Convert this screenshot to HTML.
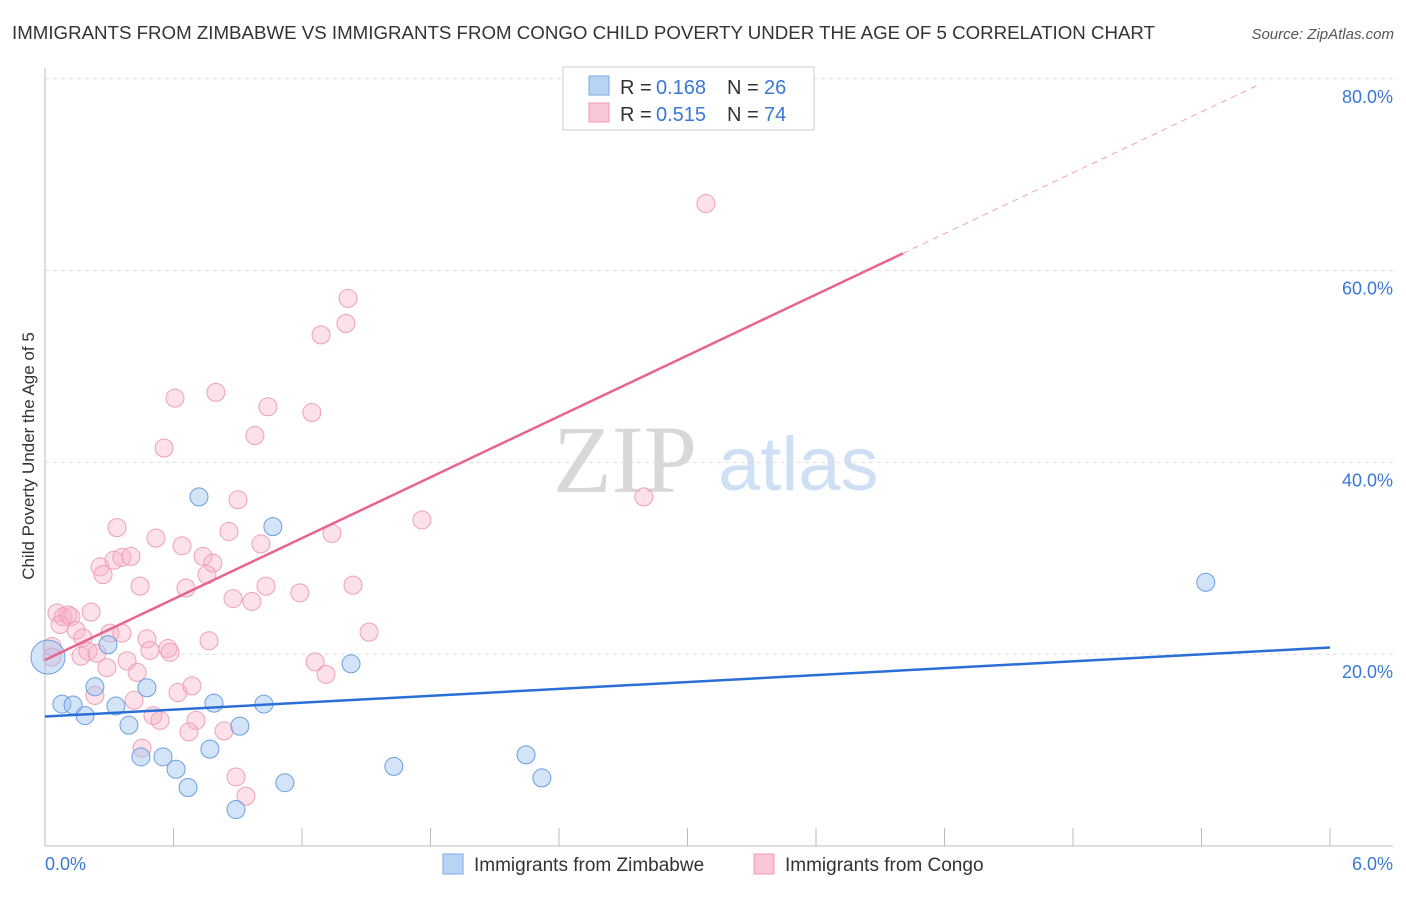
<!DOCTYPE html>
<html><head><meta charset="utf-8"><style>
body{margin:0;background:#fff;font-family:"Liberation Sans",sans-serif;}
svg text{font-family:"Liberation Sans",sans-serif;}
</style></head><body>
<svg id="chart" width="1406" height="892" viewBox="0 0 1406 892" xmlns="http://www.w3.org/2000/svg">
<text x="12" y="39" font-size="18.6" fill="#333" textLength="1143" lengthAdjust="spacingAndGlyphs">IMMIGRANTS FROM ZIMBABWE VS IMMIGRANTS FROM CONGO CHILD POVERTY UNDER THE AGE OF 5 CORRELATION CHART</text>
<text x="1394" y="39" font-size="15" fill="#555" font-style="italic" text-anchor="end">Source: ZipAtlas.com</text>
<text x="553" y="492" font-size="96" fill="#d8d8d8" style="font-family:'Liberation Serif',serif">ZIP</text>
<text x="718" y="490" font-size="76" fill="#cfe0f5">atlas</text>
<text transform="translate(34,456) rotate(-90)" font-size="17" fill="#333" text-anchor="middle">Child Poverty Under the Age of 5</text>
<g id="grid"></g><g id="marks"></g>
<g>
<rect x="563" y="67" width="251" height="63" fill="#fff" stroke="#ccc"/>
<rect x="589" y="76" width="20" height="19" fill="#b9d3f5" stroke="#7aa7e6"/>
<rect x="589" y="103" width="20" height="19" fill="#f9c6d5" stroke="#ee9ab5"/>
<text x="620" y="94" font-size="20" fill="#333">R =</text>
<text x="656" y="94" font-size="20" fill="#3a78d6">0.168</text>
<text x="727" y="94" font-size="20" fill="#333">N =</text>
<text x="764" y="94" font-size="20" fill="#3a78d6">26</text>
<text x="620" y="121" font-size="20" fill="#333">R =</text>
<text x="656" y="121" font-size="20" fill="#3a78d6">0.515</text>
<text x="727" y="121" font-size="20" fill="#333">N =</text>
<text x="764" y="121" font-size="20" fill="#3a78d6">74</text>
</g>
<g>
<rect x="443" y="854" width="20" height="20" fill="#b9d3f5" stroke="#7aa7e6"/>
<text x="474" y="871" font-size="19" fill="#333">Immigrants from Zimbabwe</text>
<rect x="754" y="854" width="20" height="20" fill="#f9c6d5" stroke="#ee9ab5"/>
<text x="785" y="871" font-size="19" fill="#333">Immigrants from Congo</text>
</g>
</svg>
<script>
const xTicks=[0,0.6,1.2,1.8,2.4,3.0,3.6,4.2,4.8,5.4,6.0];
const yTicks=[20,40,60,80];
const yTickLabels=["20.0%","40.0%","60.0%","80.0%"];
const xEndLabels=["0.0%","6.0%"];
const zimX=[0.014,0.079,0.131,0.187,0.233,0.294,0.331,0.392,0.448,0.476,0.551,0.612,0.668,0.719,0.770,0.789,0.892,0.910,1.022,1.064,1.120,1.429,1.629,2.246,2.320,5.420];
const zimY=[19.7,14.8,14.7,13.6,16.6,21.0,14.6,12.6,9.3,16.5,9.3,8.0,6.1,36.4,10.1,14.9,3.8,12.5,14.8,33.3,6.6,19.0,8.3,9.5,7.1,27.5];
const conX=[0.336,0.518,0.640,0.859,1.008,0.257,0.271,0.322,0.359,0.401,0.738,0.784,0.756,0.444,0.658,1.032,0.878,0.966,1.190,1.438,1.340,1.513,0.056,0.215,0.084,0.107,0.121,0.070,0.145,0.177,0.303,0.359,0.476,0.490,0.574,0.584,0.766,0.201,0.168,0.243,0.033,0.033,0.289,0.383,0.430,0.621,0.686,0.416,0.233,0.504,0.537,0.705,0.672,0.836,0.453,1.261,1.312,0.892,0.938,3.086,1.415,1.405,1.289,0.798,0.607,1.041,1.246,0.980,0.556,0.901,2.796,1.760];
const conY=[33.2,32.1,31.3,32.8,31.5,29.1,28.3,29.8,30.1,30.2,30.2,29.5,28.3,27.1,26.9,27.1,25.8,25.5,26.4,27.2,32.6,22.3,24.3,24.4,23.9,24.1,23.9,23.1,22.5,21.7,22.2,22.2,21.6,20.4,20.6,20.2,21.4,20.3,19.8,20.1,20.8,19.7,18.6,19.3,18.1,16.0,16.7,15.2,15.7,13.6,13.1,13.1,11.9,12.0,10.2,19.2,17.9,7.2,5.2,67.0,57.1,54.5,53.3,47.3,46.7,45.8,45.2,42.8,41.5,36.1,36.4,34.0];
const zimLine=[13.5,20.7];
const conLine=[19.4,61.8];
const conSolidEnd=4.006;
const conDashEnd=5.67;

const NS="http://www.w3.org/2000/svg";
const X=v=>45+v*214.17, Y=v=>846-v*9.59;
function mk(tag,attrs,parent){const e=document.createElementNS(NS,tag);for(const k in attrs)e.setAttribute(k,attrs[k]);parent.appendChild(e);return e;}
const grid=document.getElementById('grid'), marks=document.getElementById('marks');
yTicks.forEach((t,i)=>{
  const l=mk('line',{x1:45,x2:1393,y1:Y(t),y2:Y(t),stroke:'#ddd','stroke-dasharray':'4,4'},grid);
  
  
  const tx=mk('text',{x:1393,y:Y(t)+24,'font-size':18,fill:'#3a78d6','text-anchor':'end'},grid);
  tx.textContent=yTickLabels[i];
  
  
});
const ax=mk('line',{x1:45,x2:45,y1:68,y2:846,stroke:'#bbb'},grid);


const bx=mk('line',{x1:45,x2:1393,y1:846,y2:846,stroke:'#bbb'},grid);


xTicks.forEach(t=>{
  const l=mk('line',{x1:X(t),x2:X(t),y1:828,y2:846,stroke:'#bbb'},grid);
  
  
});
[[0,'start'],[6,'end']].forEach((p,i)=>{
  const tx=mk('text',{x:i?1393:45,y:870,'font-size':18,fill:'#3a78d6','text-anchor':p[1]},grid);
  tx.textContent=xEndLabels[i];
  
  
});
conX.forEach((x,i)=>{
  const c=mk('circle',{cx:X(x),cy:Y(conY[i]),r:9,fill:'rgba(248,175,198,0.38)',stroke:'#eea0ba','stroke-width':1},marks);
  
  
});
zimX.forEach((x,i)=>{
  const c=mk('circle',{cx:X(x),cy:Y(zimY[i]),r:i===0?17:9,fill:'rgba(160,196,240,0.45)',stroke:'#6a9ee0','stroke-width':1},marks);
  
  
});
const slope=(conLine[1]-conLine[0])/conSolidEnd;
const l1=mk('line',{x1:X(0),y1:Y(conLine[0]),x2:X(conSolidEnd),y2:Y(conLine[1]),stroke:'#e8648f','stroke-width':2.5},marks);


const l2=mk('line',{x1:X(conSolidEnd),y1:Y(conLine[1]),x2:X(conDashEnd),y2:Y(conLine[0]+slope*conDashEnd),stroke:'#eea0ba','stroke-width':1,'stroke-dasharray':'6,5'},marks);


const l3=mk('line',{x1:X(0),y1:Y(zimLine[0]),x2:X(6),y2:Y(zimLine[1]),stroke:'#2a6fd6','stroke-width':2.5},marks);


</script>
</body></html>
